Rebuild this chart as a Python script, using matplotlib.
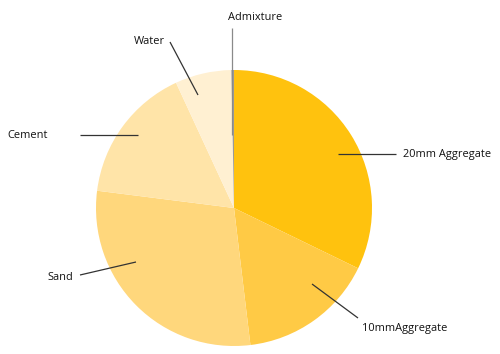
import numpy as np
import matplotlib.pyplot as plt

# 配合比数据 (%)
labels = ['20mm Aggregate', '10mmAggregate', 'Sand', 'Cement', 'Water', 'Admixture']
values = [32.2, 15.9, 28.9, 16.1, 6.6, 0.3]
colors = ['#FFC20E', '#FFCA45', '#FFD77C', '#FFE4A8', '#FFF0D2', '#9A9A9A']

# 布局 (像素坐标, y 向下)
W, H = 500, 354
cx, cy, R = 234, 208, 138
# 引线: 饼内端点, 外端点, 文字位置, 对齐, 颜色
leaders = {
    '20mm Aggregate': ((338, 154), (396, 154), (403, 155), 'left', '#333333'),
    '10mmAggregate': ((312, 284), (358, 318), (362, 328), 'left', '#333333'),
    'Sand': ((136, 262), (80, 275), (73, 277), 'right', '#333333'),
    'Cement': ((138, 135), (80, 135), (48, 136), 'right', '#333333'),
    'Water': ((198, 95), (170, 42), (165, 41), 'right', '#333333'),
    'Admixture': ((232, 135), (232, 28), (255, 17), 'center', '#8a8a8a'),
}

fig = plt.figure(figsize=(W / 100, H / 100), dpi=100)
ax = fig.add_axes([0, 0, 1, 1])

# y 轴反转, 所以 startangle 和方向也要反过来
ax.pie(values, colors=colors, center=(cx, cy), radius=R,
       startangle=-90, counterclock=True,
       wedgeprops=dict(linewidth=0))
ax.set_xlim(0, W)
ax.set_ylim(H, 0)
ax.set_aspect('equal')
ax.axis('off')

for name in labels:
    (x0, y0), (x1, y1), (tx, ty), ha, lc = leaders[name]
    ax.plot([x0, x1], [y0, y1], color=lc, lw=0.9, solid_capstyle='butt')
    ax.text(tx, ty, name, ha=ha, va='center', fontsize=7.9,
            family='Open Sans', color='#111111')

fig.savefig('out.png', dpi=100)
